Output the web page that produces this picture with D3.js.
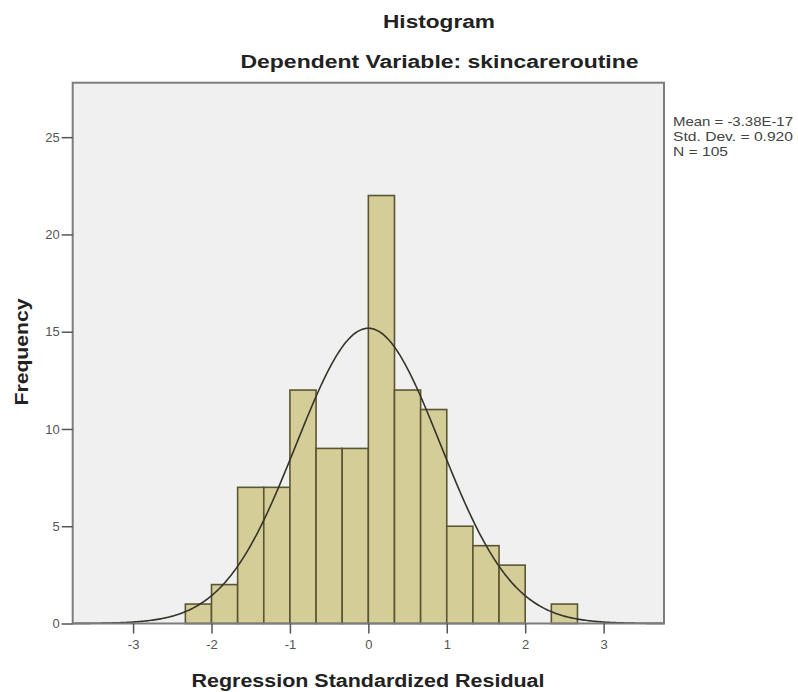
<!DOCTYPE html>
<html>
<head>
<meta charset="utf-8">
<title>Histogram</title>
<script src="https://cdn.jsdelivr.net/npm/d3@7"></script>
<style>
  body { margin: 0; background: #fff; }
  svg { display: block; font-family: "Liberation Sans", Arial, sans-serif; }
</style>
</head>
<body>
<div id="chart"></div>
<script>
// histogram counts, bins of width 1/3 starting at -7/3
var counts = [1, 2, 7, 7, 12, 9, 9, 22, 12, 11, 5, 4, 3, 0, 1];
var binStart = -7 / 3;
var binWidth = 1 / 3;
var xTicks = [-3, -2, -1, 0, 1, 2, 3];
var yTicks = [0, 5, 10, 15, 20, 25];
var stats = { mean: -3.38e-17, sd: 0.920, n: 105 };
var legendLines = ["Mean = -3.38E-17", "Std. Dev. = 0.920", "N = 105"];

var W = 798, H = 692;
var plot = { left: 72.7, right: 664, top: 82.7, bottom: 623.5 };

var svg = d3.select("#chart").append("svg")
    .attr("width", W)
    .attr("height", H);

var x = d3.scaleLinear().domain([-3.77, 3.77]).range([plot.left, plot.right]);
var y = d3.scaleLinear().domain([0, 27.8]).range([plot.bottom, plot.top]);

// plot background
svg.append("rect")
    .attr("x", plot.left).attr("y", plot.top)
    .attr("width", plot.right - plot.left)
    .attr("height", plot.bottom - plot.top)
    .attr("fill", "#f0f0f0");

var bins = counts.map(function(c, i) {
  return { x0: binStart + i * binWidth, x1: binStart + (i + 1) * binWidth, count: c };
});

svg.append("g").selectAll("rect")
    .data(bins.filter(function(d) { return d.count > 0; }))
    .enter().append("rect")
    .attr("x", function(d) { return x(d.x0); })
    .attr("y", function(d) { return y(d.count); })
    .attr("width", function(d) { return x(d.x1) - x(d.x0); })
    .attr("height", function(d) { return y(0) - y(d.count); })
    .attr("fill", "#d4cd98")
    .attr("stroke", "#5b5632")
    .attr("stroke-width", 1.6);

// fitted normal curve from the stated mean / sd / N
var pts = d3.range(-3.77, 3.7701, 0.02).map(function(v) {
  var z = (v - stats.mean) / stats.sd;
  return [v, stats.n * binWidth * Math.exp(-0.5 * z * z) / (stats.sd * Math.sqrt(2 * Math.PI))];
});
var curve = d3.line()
    .x(function(d) { return x(d[0]); })
    .y(function(d) { return y(d[1]); });
svg.append("path")
    .datum(pts)
    .attr("d", curve)
    .attr("fill", "none")
    .attr("stroke", "#35342a")
    .attr("stroke-width", 1.6);

// frame
svg.append("rect")
    .attr("x", plot.left).attr("y", plot.top)
    .attr("width", plot.right - plot.left)
    .attr("height", plot.bottom - plot.top)
    .attr("fill", "none")
    .attr("stroke", "#7d7d7d")
    .attr("stroke-width", 2);

var yAxis = d3.axisLeft(y).tickValues(yTicks).tickSize(11).tickSizeOuter(0).tickPadding(2)
    .tickFormat(function(d) { return String(d); });
var xAxis = d3.axisBottom(x).tickValues(xTicks).tickSize(10).tickSizeOuter(0).tickPadding(6)
    .tickFormat(function(d) { return String(d); });

var gy = svg.append("g").attr("transform", "translate(" + plot.left + ",0)").call(yAxis);
var gx = svg.append("g").attr("transform", "translate(0," + plot.bottom + ")").call(xAxis);

svg.selectAll(".domain").remove();
svg.selectAll(".tick line").attr("stroke", "#555").attr("stroke-width", 1.5);
svg.selectAll(".tick text")
    .attr("fill", "#555")
    .style("font-size", "13px")
    .style("font-family", "'Liberation Sans', Arial, sans-serif");

// titles
svg.append("text")
    .text("Histogram")
    .attr("x", 439).attr("y", 28)
    .attr("text-anchor", "middle")
    .attr("textLength", 112).attr("lengthAdjust", "spacingAndGlyphs")
    .style("font-size", "18px").style("font-weight", "bold")
    .attr("fill", "#222");

svg.append("text")
    .text("Dependent Variable: skincareroutine")
    .attr("x", 439.5).attr("y", 68)
    .attr("text-anchor", "middle")
    .attr("textLength", 398).attr("lengthAdjust", "spacingAndGlyphs")
    .style("font-size", "18px").style("font-weight", "bold")
    .attr("fill", "#222");

svg.append("text")
    .text("Regression Standardized Residual")
    .attr("x", 368).attr("y", 687)
    .attr("text-anchor", "middle")
    .attr("textLength", 353).attr("lengthAdjust", "spacingAndGlyphs")
    .style("font-size", "18px").style("font-weight", "bold")
    .attr("fill", "#222");

svg.append("text")
    .text("Frequency")
    .attr("transform", "translate(28,352) rotate(-90)")
    .attr("text-anchor", "middle")
    .attr("textLength", 107).attr("lengthAdjust", "spacingAndGlyphs")
    .style("font-size", "18px").style("font-weight", "bold")
    .attr("fill", "#222");

// legend
var legendLen = [120, 120, 55];
svg.append("g").selectAll("text")
    .data(legendLines)
    .enter().append("text")
    .text(function(d) { return d; })
    .attr("x", 673)
    .attr("y", function(d, i) { return 126 + i * 15; })
    .attr("textLength", function(d, i) { return legendLen[i]; })
    .attr("lengthAdjust", "spacingAndGlyphs")
    .style("font-size", "13px")
    .attr("fill", "#444");
</script>
</body>
</html>
